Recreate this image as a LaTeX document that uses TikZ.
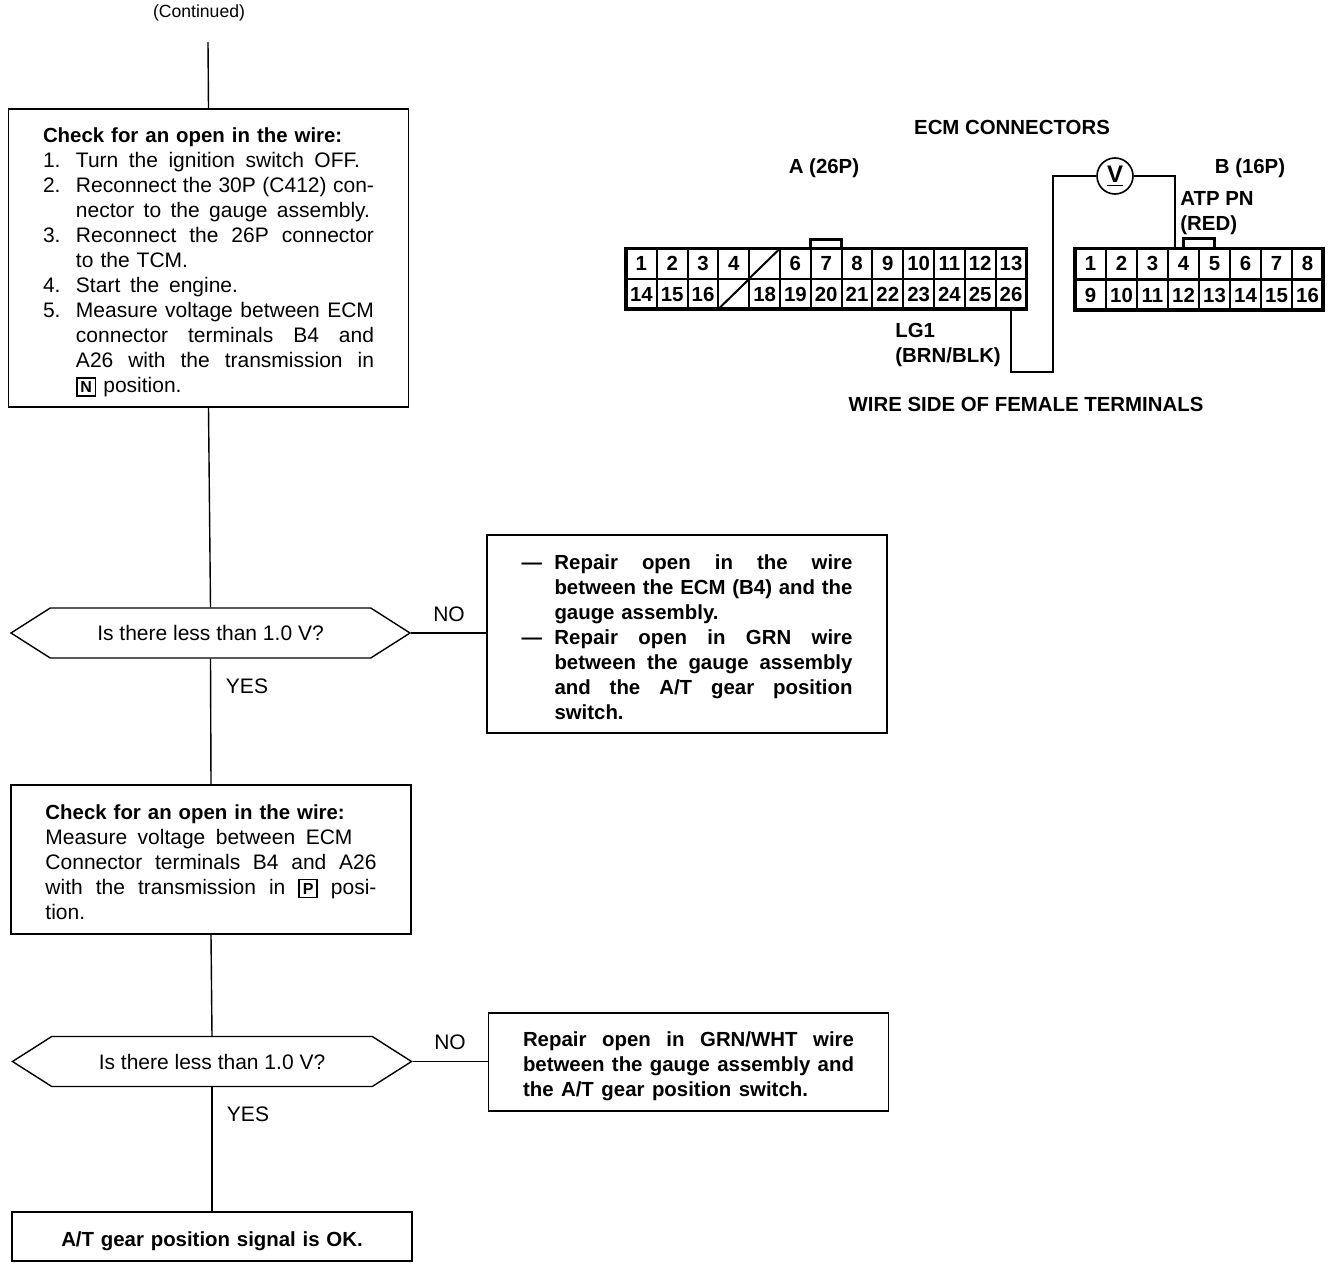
\documentclass[tikz,border=0pt]{standalone}
\usepackage{fontspec}
\setmainfont{Liberation Sans}
\usetikzlibrary{shapes.symbols, fit}

\newcommand{\sline}[2]{\makebox[#1pt][s]{\spaceskip=0pt\xspaceskip=0pt #2}}
\newcommand{\numln}[2]{\makebox[16.5pt][l]{#1}#2}
\newcommand{\headln}[1]{{\fontsize{10.2}{12.5}\selectfont\bfseries #1}}
\newcommand{\topgap}[1]{\rule{0pt}{#1pt}}
\newcommand{\gearkey}[1]{\smash{\setlength{\fboxsep}{1.4pt}\setlength{\fboxrule}{.8pt}\fbox{\footnotesize\bfseries #1}}}

\tikzset{
  base text/.style={font=\fontsize{10.5}{12.5}\selectfont, inner sep=0pt},
  bold text/.style={base text, font=\fontsize{10.2}{12.5}\selectfont\bfseries},
  flowbox/.style={draw, line width=.7pt, base text, text width=165.5pt, inner xsep=17.25pt, inner ysep=0pt, align=left},
  boldbox/.style={flowbox, font=\fontsize{10.2}{12.5}\selectfont\bfseries},
  askbox/.style={draw, line width=.7pt, base text, shape=signal, signal to=east and west, signal pointer angle=65,
    minimum width=199.5pt, minimum height=25pt},
  pincell/.style={draw, line width=1pt, bold text, text height=7.4pt, text depth=0pt, minimum height=15pt, outer sep=0pt},
  pin a/.style={pincell, minimum width=15.4pt},
  pin b/.style={pincell, minimum width=15.5pt},
  shell/.style={draw, line width=1.8pt, inner sep=0pt, outer sep=0pt},
  tabline/.style={line width=1.5pt},
  flow/.style={line width=.7pt}
}

\begin{document}
\begin{tikzpicture}[x=.5pt, y=-.5pt]
  \useasboundingbox (0,0) rectangle (1344,1268);

  \node[base text, font=\fontsize{8.8}{10}\selectfont] (continued) at (199,13) {(Continued)};
  \coordinate (start) at (208,42);

  \node[flowbox, minimum height=149pt] (check1) at (208.5,258) {%
    \topgap{11.6}\headln{Check for an open in the wire:}\\
    \numln{1.}{\sline{142}{Turn the ignition switch OFF.}}\\
    \numln{2.}{\sline{149}{Reconnect the 30P (C412) con-}}\\
    \numln{}{\sline{147}{nector to the gauge assembly.}}\\
    \numln{3.}{\sline{149}{Reconnect the 26P connector}}\\
    \numln{}{to the TCM.}\\
    \numln{4.}{\sline{81}{Start the engine.}}\\
    \numln{5.}{\sline{149}{Measure voltage between ECM}}\\
    \numln{}{\sline{149}{connector terminals B4 and}}\\
    \numln{}{\sline{149}{A26 with the transmission in}}\\
    \numln{}{\gearkey{N} position.}};

  \node[askbox] (ask1) at (210.5,633) {Is there less than 1.0 V?};
  \node[base text] (no1) at (449,614) {NO};
  \node[base text] (yes1) at (247,686) {YES};

  \node[boldbox, minimum height=99pt] (repair1) at (687,634) {%
    \topgap{10.6}\numln{---}{\sline{149}{Repair open in the wire}}\\
    \numln{}{\sline{149}{between the ECM (B4) and the}}\\
    \numln{}{gauge assembly.}\\
    \numln{---}{\sline{149}{Repair open in GRN wire}}\\
    \numln{}{\sline{149}{between the gauge assembly}}\\
    \numln{}{\sline{149}{and the A/T gear position}}\\
    \numln{}{switch.}};

  \node[flowbox, minimum height=74.5pt] (check2) at (211,859.5) {%
    \topgap{9.6}\headln{Check for an open in the wire:}\\
    \sline{153.5}{Measure voltage between ECM}\\
    \sline{165.5}{Connector terminals B4 and A26}\\
    \sline{165.5}{with the transmission in \gearkey{P} posi-}\\
    tion.};

  \node[askbox] (ask2) at (212,1061.5) {Is there less than 1.0 V?};
  \node[base text] (no2) at (450,1042) {NO};
  \node[base text] (yes2) at (248,1114) {YES};

  \node[boldbox, minimum height=49pt] (repair2) at (688.5,1062) {%
    \topgap{11.6}\sline{165.5}{Repair open in GRN/WHT wire}\\
    \sline{165.5}{between the gauge assembly and}\\
    \sline{142.5}{the A/T gear position switch.}};

  \node[boldbox, align=center, minimum height=24.5pt] (signalok) at (212,1236.5) {\topgap{12.6}A/T gear position signal is OK.};

  \draw[flow] (start) -- (check1.north);
  \draw[flow] (check1.south) -- (ask1.north);
  \draw[flow] (ask1.east) -- (repair1.west |- ask1.east);
  \draw[flow] (ask1.south) -- (check2.north);
  \draw[flow] (check2.south) -- (ask2.north);
  \draw[flow] (ask2.east) -- (repair2.west |- ask2.east);
  \draw[flow] (ask2.south) -- (signalok.north);

  \node[bold text] (title) at (1012,127) {ECM CONNECTORS};
  \node[bold text] (namea) at (824,168) {A (26P)};
  \node[bold text] (nameb) at (1250,168) {B (16P)};
  \node[bold text, anchor=west] (atp) at (1180,198) {ATP PN};
  \node[bold text, anchor=west] (red) at (1180,225) {(RED)};
  \node[bold text, anchor=west] (lgone) at (895,330) {LG1};
  \node[bold text, anchor=west] (brn) at (895,357) {(BRN/BLK)};
  \node[bold text] (side) at (1026,404) {WIRE SIDE OF FEMALE TERMINALS};

  \foreach \n in {1,2,3,4,6,7,...,13}
    \node[pin a] (a\n) at ({626+30.8*(\n-.5)},263.5) {\n};
  \foreach \n in {14,15,16,18,19,...,26}
    \node[pin a] (a\n) at ({626+30.8*(\n-13.5)},294) {\n};
  \node[pin a] (a5) at ({626+30.8*4.5},263.5) {};
  \node[pin a] (a17) at ({626+30.8*3.5},294) {};
  \draw[line width=1pt] (a5.south west) -- (a5.north east);
  \draw[line width=1pt] (a17.south west) -- (a17.north east);
  \node[shell, fit=(a1)(a26)] (conna) {};
  \draw[tabline] (a7.north west) -- ++(0,-9) -| (a7.north east);

  \foreach \n in {1,...,8}
    \node[pin b] (b\n) at ({1075+31*(\n-.5)},263.5) {\n};
  \foreach \n in {9,...,16}
    \node[pin b] (b\n) at ({1075+31*(\n-8.5)},295) {\n};
  \node[shell, fit=(b1)(b16)] (connb) {};
  \draw[tabline] (b4.north) -- ++(0,-10) -| (b5.north);

  \node[draw, circle, line width=.8pt, minimum size=18pt, inner sep=0pt, bold text, font=\fontsize{12}{12}\selectfont\bfseries] (meter) at (1115,176) {\underline{V}};
  \coordinate (wireturn) at (1053,372);
  \coordinate (wireb) at (1175,248);
  \draw[flow] (a26.south) |- (wireturn) |- (meter.west);
  \draw[flow] (meter.east) -| (wireb);
\end{tikzpicture}
\end{document}
